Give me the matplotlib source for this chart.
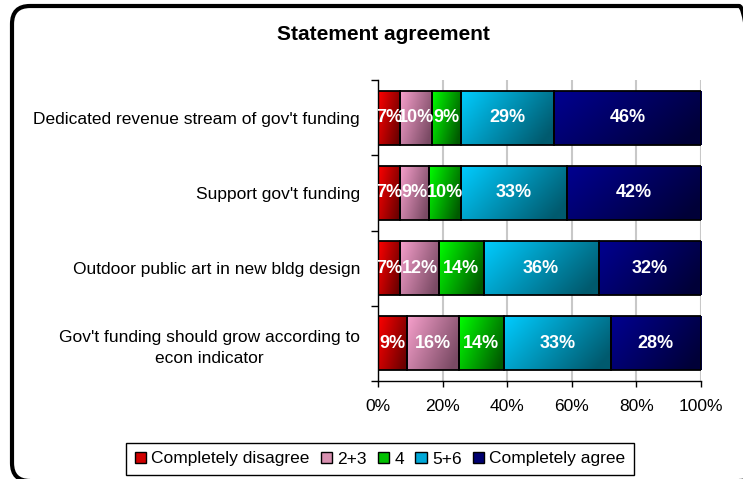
import numpy as np
import matplotlib.pyplot as plt
from matplotlib.patches import FancyBboxPatch, Patch
from matplotlib.colors import to_rgb
from matplotlib.transforms import IdentityTransform

plt.rcParams['font.family'] = ['Liberation Sans', 'DejaVu Sans']

statements = ["Dedicated revenue stream of gov't funding",
              "Support gov't funding",
              "Outdoor public art in new bldg design",
              "Gov't funding should grow according to\necon indicator"]
series = ["Completely disagree", "2+3", "4", "5+6", "Completely agree"]
completely_disagree = [7, 7, 7, 9]
two_three = [10, 9, 12, 16]
four = [9, 10, 14, 14]
five_six = [29, 33, 36, 33]
completely_agree = [46, 42, 32, 28]
ticks = [0, 20, 40, 60, 80, 100]

# light / dark ends of each segment's shading
shades = [("#ff0000", "#6a0000"),
          ("#f7a0cc", "#7a4a64"),
          ("#00ff00", "#005a00"),
          ("#00ccff", "#005a6e"),
          ("#000090", "#000038")]
legend_colors = ["#d00000", "#d890b0", "#00c000", "#00a8d8", "#000070"]


def gradient(c0, c1, n=40):
    a = np.array(to_rgb(c0))
    b = np.array(to_rgb(c1))
    xx, yy = np.meshgrid(np.linspace(0, 1, n), np.linspace(0, 1, n))
    t = np.clip(0.75 * xx + 0.35 * yy, 0, 1)[..., None]
    return a * (1 - t) + b * t


fig = plt.figure(figsize=(7.43, 4.79), dpi=100)
ax = fig.add_axes([378 / 743, 1 - 381 / 479, 323 / 743, 301 / 479])

data = np.array([completely_disagree, two_three, four, five_six, completely_agree],
                dtype=float)
totals = data.sum(axis=0)
y = np.arange(len(statements))
left = np.zeros(len(statements))
for vals, (c0, c1) in zip(data, shades):
    widths = vals / totals * 100
    bars = ax.barh(y, widths, left=left, height=0.72, facecolor='none',
                   edgecolor='black', linewidth=1.3, zorder=3)
    img = gradient(c0, c1)
    for rect, v, w, l in zip(bars, vals, widths, left):
        x0, y0 = rect.get_x(), rect.get_y()
        h = rect.get_height()
        im = ax.imshow(img, extent=(x0, x0 + w, y0 + h, y0), aspect='auto',
                       interpolation='bilinear', zorder=2)
        im.set_clip_path(rect)
        ax.text(l + w / 2, y0 + h / 2, f"{int(v)}%", color='white',
                fontsize=13, fontweight='bold', ha='center', va='center',
                zorder=4)
    left += widths

ax.set_xlim(0, 100)
ax.set_ylim(len(statements) - 0.5, -0.5)
ax.set_xticks(ticks)
ax.set_xticklabels([f"{t}%" for t in ticks], fontsize=12.5)
ax.set_yticks(y)
ax.set_yticklabels(statements, fontsize=12.5, multialignment='center',
                   linespacing=1.55)
ax.set_yticks(np.arange(-0.5, len(statements)), minor=True)
ax.tick_params(axis='y', which='major', length=0, pad=13)
ax.tick_params(axis='y', which='minor', length=5, direction='out', width=1)
ax.tick_params(axis='x', length=4, width=1, direction='out', pad=9)
ax.grid(axis='x', color='#c8c8c8', linewidth=1.5, zorder=0)
ax.set_axisbelow(True)
for s in ['top', 'right']:
    ax.spines[s].set_visible(False)
ax.spines['left'].set_linewidth(1)
ax.spines['bottom'].set_linewidth(1)

fig.text(383 / 743, 1 - 34 / 479, "Statement agreement", fontsize=15,
         fontweight='bold', ha='center', va='center')

handles = [Patch(facecolor=c, edgecolor='black', linewidth=1) for c in legend_colors]
fig.legend(handles, series, loc='center', bbox_to_anchor=(380 / 743, 1 - 459 / 479),
           ncol=5, fontsize=12.5, handlelength=0.65, handleheight=0.65,
           handletextpad=0.3, columnspacing=0.65, borderpad=0.5,
           fancybox=False, edgecolor='black', framealpha=1)

# rounded outer frame, drawn in pixels
frame = FancyBboxPatch((12, -2), 745, 475, boxstyle="round,pad=0,rounding_size=18",
                       transform=IdentityTransform(), facecolor='none',
                       edgecolor='black', linewidth=3, clip_on=False)
fig.patches.append(frame)

fig.savefig("out.png", dpi=100)
